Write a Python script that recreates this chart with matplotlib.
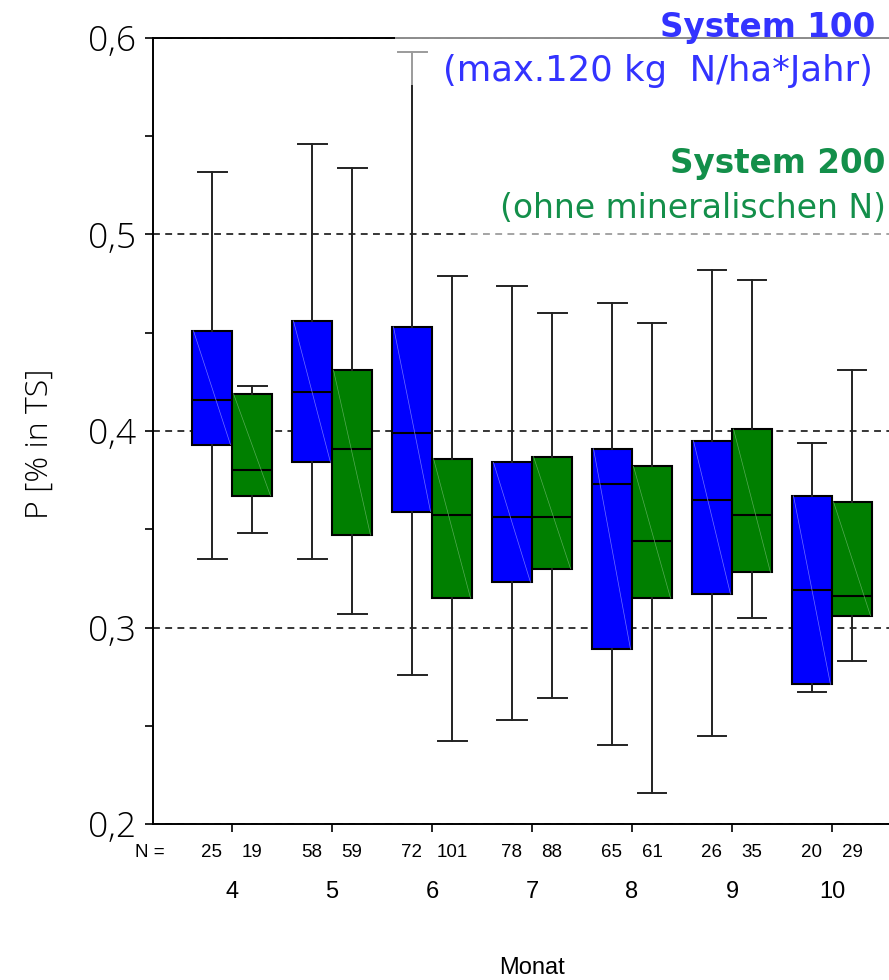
'''
Boxplot P content per month, System 100 vs System 200.
'''

import matplotlib.pyplot as plt
from matplotlib.patches import Rectangle

months = ['4', '5', '6', '7', '8', '9', '10']
n_100 = [25, 58, 72, 78, 65, 26, 20]
n_200 = [19, 59, 101, 88, 61, 35, 29]

# System 100 (blue): whisker low, Q1, median, Q3, whisker high
s100_lo  = [0.335, 0.335, 0.276, 0.253, 0.240, 0.245, 0.267]
s100_q1  = [0.393, 0.384, 0.359, 0.323, 0.289, 0.317, 0.271]
s100_med = [0.416, 0.420, 0.399, 0.356, 0.373, 0.365, 0.319]
s100_q3  = [0.451, 0.456, 0.453, 0.384, 0.391, 0.395, 0.367]
s100_hi  = [0.532, 0.546, 0.593, 0.474, 0.465, 0.482, 0.394]

# System 200 (green)
s200_lo  = [0.348, 0.307, 0.242, 0.264, 0.216, 0.305, 0.283]
s200_q1  = [0.367, 0.347, 0.315, 0.330, 0.315, 0.328, 0.306]
s200_med = [0.380, 0.391, 0.357, 0.356, 0.344, 0.357, 0.316]
s200_q3  = [0.419, 0.431, 0.386, 0.387, 0.382, 0.401, 0.364]
s200_hi  = [0.423, 0.534, 0.479, 0.460, 0.455, 0.477, 0.431]

yticks = [0.2, 0.3, 0.4, 0.5, 0.6]
ylabels = ['0,2', '0,3', '0,4', '0,5', '0,6']
yminor = [0.25, 0.35, 0.45, 0.55]

BLUE, GREEN = '#0000ff', '#007f00'
NARROW = ['Liberation Sans Narrow', 'Liberation Sans']
LIGHT = ['Open Sans', 'DejaVu Sans']

W, H = 889, 980
fig = plt.figure(figsize=(W/100, H/100), dpi=100)
ax = fig.add_axes([153/W, 1-824/H, 758/W, 786/H])

def stats(lo, q1, med, q3, hi):
  return [dict(whislo=a, q1=b, med=c, q3=d, whishi=e, fliers=[]) for a, b, c, d, e in zip(lo, q1, med, q3, hi)]

x = list(range(len(months)))
groups = [
  (stats(s100_lo, s100_q1, s100_med, s100_q3, s100_hi), [i-0.2 for i in x], BLUE, '#7070ff', s100_q1, s100_q3),
  (stats(s200_lo, s200_q1, s200_med, s200_q3, s200_hi), [i+0.2 for i in x], GREEN, '#55aa55', s200_q1, s200_q3),
]
for st, pos, col, diag, q1, q3 in groups:
  ax.bxp(st, positions=pos, widths=0.4, capwidths=0.29, patch_artist=True, showfliers=False,
         boxprops=dict(facecolor=col, edgecolor='black', linewidth=1.5),
         medianprops=dict(color='black', linewidth=1.5),
         whiskerprops=dict(color='#222222', linewidth=1.4),
         capprops=dict(color='#222222', linewidth=1.4), zorder=3)
  # faint diagonal inside each box
  for p, a, b in zip(pos, q1, q3):
    ax.plot([p-0.185, p+0.185], [b, a], color=diag, lw=0.5, zorder=3.5)

ax.set_xlim(-0.79, 6.79)
ax.set_ylim(0.2, 0.6)
ax.set_yticks(yticks, ylabels, fontsize=25.5, family=LIGHT, fontweight='light')
ax.set_yticks(yminor, minor=True)
ax.tick_params(axis='y', which='both', length=6, width=1.2, pad=6)
ax.set_xticks(x, months, fontsize=17, family=NARROW)
ax.tick_params(axis='x', length=6, width=1.2, pad=35)
ax.yaxis.grid(True, linestyle=(0, (4.5, 3.5)), color='black', linewidth=1.1)
ax.set_axisbelow(True)
for s in ['left', 'bottom', 'top']:
  ax.spines[s].set_linewidth(1.4)
ax.spines['right'].set_visible(False)

tr = ax.get_xaxis_transform()
ny = (824-852)/786
ax.text(-0.82, ny, 'N =', ha='center', va='center', fontsize=13.5, family=NARROW, transform=tr, clip_on=False)
for i in x:
  ax.text(i-0.2, ny, str(n_100[i]), ha='center', va='center', fontsize=13.5, family=NARROW, transform=tr, clip_on=False)
  ax.text(i+0.2, ny, str(n_200[i]), ha='center', va='center', fontsize=13.5, family=NARROW, transform=tr, clip_on=False)

fig.text(532/W, 1-968/H, 'Monat', ha='center', va='center', fontsize=17, family=NARROW)
fig.text(40/W, 1-444/H, 'P [% in TS]', ha='center', va='center', rotation=90, fontsize=23, family=LIGHT, fontweight='light')

# half transparent white boxes behind the legend texts
fig.add_artist(Rectangle((395/W, 1-85/H), (W-395)/W, 85/H, transform=fig.transFigure,
                         facecolor='white', alpha=0.55, edgecolor='none', zorder=5))
fig.add_artist(Rectangle((465/W, 1-238/H), (W-465)/W, 100/H, transform=fig.transFigure,
                         facecolor='white', alpha=0.55, edgecolor='none', zorder=5))

fig.text(875/W, 1-37/H, 'System 100', ha='right', va='baseline', color='#3333ff', fontsize=23.5, fontweight='bold', zorder=6)
fig.text(873/W, 1-81/H, '(max.120 kg  N/ha*Jahr)', ha='right', va='baseline', color='#3333ff', fontsize=25.5, zorder=6)
fig.text(886/W, 1-173/H, 'System 200', ha='right', va='baseline', color='#138f4a', fontsize=23.5, fontweight='bold', zorder=6)
fig.text(886/W, 1-218/H, '(ohne mineralischen N)', ha='right', va='baseline', color='#138f4a', fontsize=23.8, zorder=6)

fig.savefig('out.png', dpi=100)
